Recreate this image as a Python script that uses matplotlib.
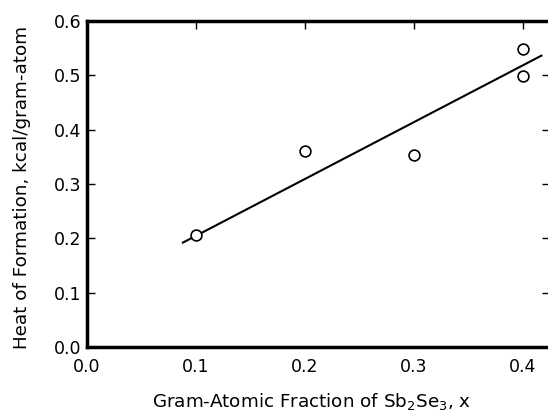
import matplotlib
matplotlib.use("Agg")
import matplotlib.pyplot as plt

# measured points (open circles)
frac = [0.1, 0.2, 0.3, 0.4, 0.4]
heat = [0.206, 0.360, 0.354, 0.548, 0.499]

# fitted line, drawn end to end
fit_x = [0.088, 0.417]
fit_y = [0.192, 0.536]

xticks = [0.0, 0.1, 0.2, 0.3, 0.4]
yticks = [0.0, 0.1, 0.2, 0.3, 0.4, 0.5, 0.6]

plt.rcParams.update({
    "font.family": "DejaVu Sans",
    "mathtext.fontset": "dejavusans",
    "mathtext.default": "regular",
})

fig = plt.figure(figsize=(5.48, 4.18), dpi=100)
ax = fig.add_axes([0.1588, 0.170, 0.845, 0.780])

ax.plot(fit_x, fit_y, color="black", linewidth=1.5)
ax.plot(frac, heat, linestyle="none", marker="o", markersize=7.8,
        markerfacecolor="white", markeredgecolor="black", markeredgewidth=1.2)

ax.set_xlim(0, 0.425)
ax.set_ylim(0, 0.6)
ax.set_xticks(xticks)
ax.set_yticks(yticks)
ax.set_xticklabels([f"{t:.1f}" for t in xticks])
ax.set_yticklabels([f"{t:.1f}" for t in yticks])

for s in ax.spines.values():
    s.set_linewidth(2.5)

ax.tick_params(axis="both", direction="in", labelsize=12.5, width=1.0,
               length=6, top=True, right=True)
ax.tick_params(axis="x", bottom=False, pad=8)
ax.tick_params(axis="y", pad=4)

ax.set_xlabel("Gram-Atomic Fraction of Sb$_2$Se$_3$, x", fontsize=13.2)
ax.set_ylabel("Heat of Formation, kcal/gram-atom", fontsize=13.2)
# label positions in axes fraction (axes spans 87..550 px wide, 21..347 px tall)
ax.xaxis.set_label_coords(0.484, -0.135)
ax.yaxis.set_label_coords(-0.122, 0.49)

fig.savefig("out.png", dpi=100)
